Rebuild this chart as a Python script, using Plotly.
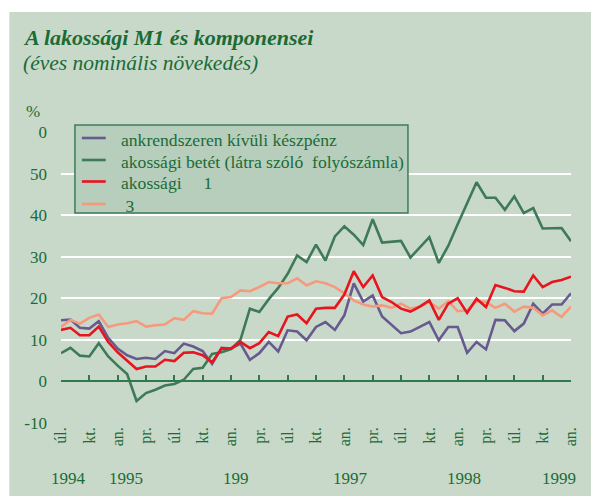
import plotly.graph_objects as go

# Monthly points: July 1994 .. January 1999 (55 months)
months = list(range(55))

keszpenz = [14.7, 14.9, 12.9, 12.7, 14.5, 10.5, 7.9, 6.3, 5.4, 5.7, 5.4, 7.3, 6.8, 9.1, 8.4,
            7.3, 4.2, 8.1, 7.9, 9.1, 5.2, 6.8, 9.5, 7.2, 12.3, 12.0, 9.9, 13.1, 14.3, 12.4,
            15.9, 23.6, 19.2, 20.7, 15.6, 13.7, 11.6, 12.0, 13.1, 14.3, 9.9, 13.1, 13.1, 6.9,
            9.5, 7.7, 14.8, 14.7, 12.1, 13.9, 18.7, 16.3, 18.5, 18.5, 21.2]

betet = [6.8, 8.1, 6.2, 6.0, 9.2, 6.0, 3.8, 1.8, -4.7, -2.8, -2.0, -1.0, -0.6, 0.4, 3.0,
         3.3, 6.6, 7.0, 7.8, 10.0, 17.5, 16.7, 19.8, 22.5, 25.9, 30.3, 28.7, 32.9, 29.1, 34.9,
         37.3, 35.3, 32.8, 39.0, 33.4, 33.6, 33.8, 29.8, 32.2, 34.7, 28.5, 32.6, 37.8, 42.9,
         47.9, 44.2, 44.2, 41.3, 44.5, 40.5, 41.7, 36.8, 36.9, 36.9, 33.7]

m1 = [12.4, 12.9, 11.1, 11.1, 13.2, 9.5, 7.0, 5.0, 3.0, 3.6, 3.6, 5.2, 4.9, 6.9, 7.0,
      6.3, 4.6, 7.9, 7.9, 9.5, 8.0, 9.2, 11.9, 10.9, 15.6, 16.1, 14.0, 17.5, 17.7, 17.7,
      20.9, 26.5, 22.7, 25.5, 20.3, 19.1, 17.5, 16.8, 18.0, 19.5, 14.8, 18.7, 20.0, 16.5,
      19.9, 17.9, 23.2, 22.5, 21.7, 21.6, 25.5, 22.7, 23.9, 24.4, 25.2]

s3 = [13.1, 14.8, 13.9, 15.3, 16.1, 13.1, 13.7, 14.0, 14.5, 13.2, 13.5, 13.7, 15.2, 14.8, 16.9,
      16.4, 16.3, 20.0, 20.3, 21.9, 21.7, 22.7, 23.9, 23.6, 23.6, 24.8, 23.1, 24.1, 23.6, 22.7,
      21.2, 19.5, 18.5, 18.0, 18.3, 17.7, 18.7, 17.5, 18.0, 19.1, 17.5, 19.3, 16.9, 17.1,
      19.3, 19.1, 17.7, 18.7, 16.8, 18.0, 17.7, 15.9, 17.1, 15.5, 18.0]

names = ["ankrendszeren kívüli készpénz",
         "akossági betét (látra szóló\u00a0\u00a0folyószámla)",
         "akossági\u00a0\u00a0\u00a0\u00a0 1",
         "\u00a03"]

quarter_ticks = list(range(0, 55, 3))
quarter_labels = ["úl.", "kt.", "an.", "pr."] * 4 + ["úl.", "kt.", "an."]
year_labels = ["1994", "1995", "199", "1997", "1998", "1999"]
year_at = [0.75, 6.9, 18.5, 30.7, 42.7, 52.7]
y_tickvals = [60, 50, 40, 30, 20, 10, 0, -10]
y_ticktext = ["0", "50", "40", "30", "20", "10", "0", "-10"]

GREEN_TXT = "#1B6B36"
BG = "#C8D9CA"
FONT = "Liberation Serif"

W, H = 591, 496
L, R, T, B = 61, 17, 132, 73
pw, ph = W - L - R, H - T - B


def px(x):
    return (x - L) / pw


def py(y):
    return (H - B - y) / ph


fig = go.Figure()
series = [
    (betet, names[1], "#3E7A57"),
    (keszpenz, names[0], "#675A8E"),
    (s3, names[3], "#F59A7C"),
    (m1, names[2], "#E8141E"),
]
for vals, nm, col in series:
    fig.add_trace(go.Scatter(x=months, y=vals, name=nm, mode="lines",
                             line=dict(color=col, width=2.6), showlegend=False))

# helper trace for the zero axis line
fig.add_trace(go.Scatter(x=[months[0], months[-1]], y=[0, 0], xaxis="x2", mode="lines",
                         line=dict(width=0), opacity=0, showlegend=False, hoverinfo="skip"))

fig.add_shape(type="rect", xref="paper", yref="paper", x0=px(9), x1=px(W + 5),
              y0=py(H + 5), y1=py(12), fillcolor=BG, line=dict(width=0), layer="below")

# legend box (drawn by hand for exact spacing)
fig.add_shape(type="rect", xref="paper", yref="paper", x0=px(75), x1=px(410),
              y0=py(213), y1=py(125), fillcolor="#B6CEBB",
              line=dict(color="#3D7D58", width=1.5), layer="above")
legend_order = [1, 0, 3, 2]
legend_rows = [138, 160, 181.5, 204]
for idx, yrow in zip(legend_order, legend_rows):
    vals, nm, col = series[idx]
    fig.add_shape(type="line", xref="paper", yref="paper", x0=px(82), x1=px(106),
                  y0=py(yrow), y1=py(yrow), line=dict(color=col, width=2.6), layer="above")
    fig.add_annotation(text=nm, xref="paper", yref="paper", x=px(119), y=py(yrow + 1.5),
                       xanchor="left", yanchor="middle", showarrow=False,
                       font=dict(family=FONT, size=17.6, color=GREEN_TXT))

fig.add_annotation(text="<b><i>A lakossági M1 és komponensei</i></b>", xref="paper", yref="paper",
                   x=px(21), y=py(37.5), xanchor="left", yanchor="middle", showarrow=False,
                   font=dict(family=FONT, size=22, color=GREEN_TXT))
fig.add_annotation(text="<i>(éves nominális növekedés)</i>", xref="paper", yref="paper",
                   x=px(21), y=py(63.5), xanchor="left", yanchor="middle", showarrow=False,
                   font=dict(family=FONT, size=21.5, color=GREEN_TXT))
fig.add_annotation(text="%", xref="paper", yref="paper", x=px(33), y=py(111),
                   xanchor="center", yanchor="middle", showarrow=False,
                   font=dict(family=FONT, size=17, color=GREEN_TXT))
for lab, xi in zip(year_labels, year_at):
    fig.add_annotation(text=lab, xref="x", yref="paper", x=xi, y=py(478),
                       xanchor="center", yanchor="middle", showarrow=False,
                       font=dict(family=FONT, size=17, color=GREEN_TXT))

fig.update_layout(
    width=W, height=H,
    margin=dict(l=L, r=R, t=T, b=B),
    paper_bgcolor="white",
    plot_bgcolor="rgba(0,0,0,0)",
    font=dict(family=FONT, color=GREEN_TXT),
    xaxis=dict(range=[months[0], months[-1]], tickvals=quarter_ticks, ticktext=quarter_labels,
               tickangle=-90, showgrid=False, zeroline=False, showline=False, ticks="",
               tickfont=dict(family=FONT, size=16, color=GREEN_TXT)),
    xaxis2=dict(range=[months[0], months[-1]], overlaying="x", anchor="free",
                position=1 / 7, tickvals=quarter_ticks, ticks="inside", ticklen=6,
                tickwidth=1.5, tickcolor="#2E7A4E", showline=True, linecolor="#2E7A4E",
                linewidth=1.5, showticklabels=False, showgrid=False, zeroline=False),
    yaxis=dict(range=[-10, 60], tickvals=y_tickvals, ticktext=y_ticktext, showgrid=True,
               gridcolor="white", gridwidth=2.2, zeroline=False, showline=False,
               ticklabelstandoff=13,
               tickfont=dict(family=FONT, size=17, color=GREEN_TXT)),
    showlegend=False,
)

fig.write_html("out.html", post_script="document.body.style.margin='0';",
               config={"displayModeBar": False})
